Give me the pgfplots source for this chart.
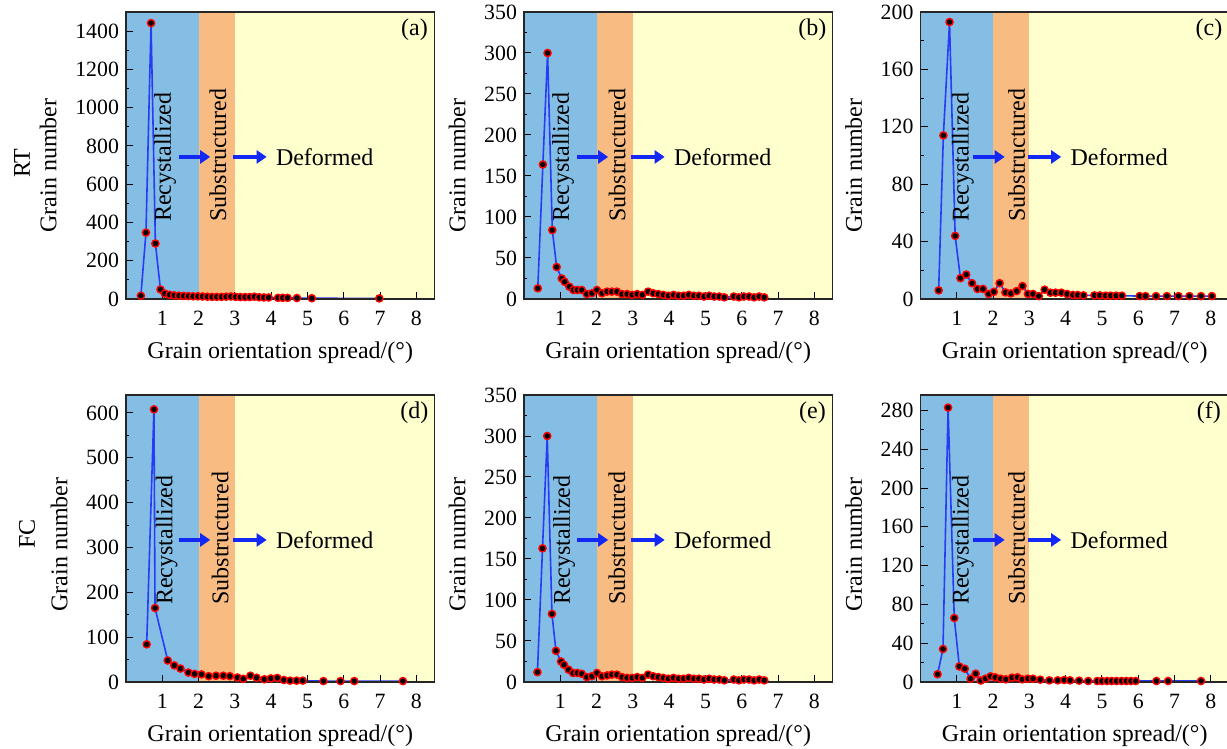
\documentclass[border=0pt]{standalone}
\usepackage{fontspec}
\setmainfont{Liberation Serif}
\usepackage{pgfplots}
\pgfplotsset{compat=1.18}
\usetikzlibrary{arrows.meta}

\definecolor{bgblue}{RGB}{133,190,229}
\definecolor{bgorange}{RGB}{248,188,130}
\definecolor{bgyellow}{RGB}{255,255,206}
\definecolor{lineblue}{RGB}{40,60,245}
\definecolor{arrowblue}{RGB}{20,40,245}

\pgfplotsset{
  gos/.style={
    scale only axis, width=154.25pt, height=143.5pt,
    anchor=south west,
    axis on top,
    xmin=0, xmax=8.5, ymin=0,
    xtick={1,2,3,4,5,6,7,8},
    minor y tick num=1,
    tick pos=left, tick align=inside,
    major tick length=3.5pt, minor tick length=1.6pt,
    tick style={black, line width=0.5pt},
    axis line style={line width=0.6pt, black!85},
    /pgf/number format/assume math mode=true,
    /pgf/number format/1000 sep={},
    scaled y ticks=false,
    ticklabel style={font=\fontsize{10.9}{12}\selectfont},
    xticklabel shift={2.5pt},
    label style={font=\fontsize{12}{14}\selectfont},
    xlabel={Grain orientation spread/(°)},
    xlabel style={yshift=-1pt},
    ylabel={Grain number},
    clip=false,
  },
  row1/.style={ylabel style={yshift=2.5pt, xshift=-5pt}},
  row2/.style={ylabel style={yshift=2.5pt, xshift=-3pt}},
  dat/.style={lineblue, line width=0.8pt, mark=*, mark size=1.8pt,
    mark options={fill=black, draw=red, line width=0.7pt, solid}},
}

\newcommand{\bg}[1]{%
  \addplot[draw=none, fill=bgblue] coordinates {(0,#1) (2,#1)} \closedcycle;
  \addplot[draw=none, fill=bgorange] coordinates {(2,#1) (3,#1)} \closedcycle;
  \addplot[draw=none, fill=bgyellow] coordinates {(3,#1) (8.5,#1)} \closedcycle;
}
\newcommand{\annot}[3]{%
  \node[rotate=90, anchor=west, inner sep=0pt, font=\fontsize{12}{14}\selectfont] at (rel axis cs:#2,0.268) {Recystallized};
  \node[rotate=90, anchor=west, inner sep=0pt, font=\fontsize{12}{14}\selectfont] at (rel axis cs:#3,0.268) {Substructured};
  \draw[arrowblue, line width=1.6pt, -{Triangle[length=5pt,width=6.5pt]}] (rel axis cs:0.1706,0.495) -- (rel axis cs:0.273,0.495);
  \draw[arrowblue, line width=1.6pt, -{Triangle[length=5pt,width=6.5pt]}] (rel axis cs:0.347,0.495) -- (rel axis cs:0.456,0.495);
  \node[anchor=west, inner sep=0pt, font=\fontsize{12}{14}\selectfont] at (rel axis cs:0.485,0.495) {Deformed};
  \node[inner sep=0pt, font=\fontsize{12}{14}\selectfont] at (rel axis cs:0.935,0.937) {(#1)};
}

\begin{document}
\begin{tikzpicture}
\useasboundingbox (0,0) rectangle (613.5pt,374.5pt);

% (a)
\begin{axis}[gos, row1, at={(63pt,225pt)}, ymax=1500, ytick={0,200,...,1400}]
\bg{1500}
\addplot[dat] coordinates {
(0.41,17) (0.55,347) (0.69,1442) (0.81,290) (0.95,50) (1.07,28) (1.20,22) (1.33,19)
(1.46,17) (1.59,16) (1.72,15) (1.85,14) (1.98,14) (2.11,13) (2.24,12) (2.37,11)
(2.50,11) (2.63,11) (2.76,12) (2.89,13) (3.02,11) (3.15,10) (3.28,10) (3.41,10)
(3.54,12) (3.67,9) (3.80,8) (3.93,8) (4.19,6) (4.32,6) (4.45,6) (4.71,5) (5.12,4) (6.98,3)};
\annot{a}{0.127}{0.298}
\end{axis}

% (b)
\begin{axis}[gos, row1, at={(262pt,225pt)}, ymax=350, ytick={0,50,...,350}]
\bg{350}
\addplot[dat] coordinates {
(0.38,13) (0.52,164) (0.65,300) (0.78,84) (0.90,39) (1.04,25) (1.12,21) (1.25,15)
(1.36,11) (1.47,11) (1.59,11) (1.73,6) (1.87,7) (2.01,11) (2.15,7) (2.29,9) (2.42,9)
(2.56,9) (2.70,6) (2.84,6) (2.98,5) (3.12,6) (3.26,5) (3.42,9) (3.56,7) (3.70,6)
(3.84,5) (3.98,4) (4.12,5) (4.26,4) (4.40,4) (4.54,5) (4.68,4) (4.82,4) (4.96,3)
(5.10,4) (5.24,3) (5.38,3) (5.52,2) (5.78,3) (5.92,2) (6.06,3) (6.20,3) (6.34,2)
(6.48,3) (6.62,2)};
\annot{b}{0.127}{0.302}
\end{axis}

% (c)
\begin{axis}[gos, row1, at={(460.25pt,225pt)}, ymax=200, ytick={0,40,...,200}]
\bg{200}
\addplot[dat] coordinates {
(0.50,6) (0.63,114) (0.80,193) (0.955,44) (1.10,14.5) (1.26,17) (1.42,11) (1.57,7)
(1.72,7) (1.88,3.5) (2.02,5) (2.18,11) (2.34,4.6) (2.49,3.9) (2.65,5.5) (2.81,9)
(2.96,3.5) (3.10,3.5) (3.26,2) (3.42,6.5) (3.58,4.4) (3.72,4.4) (3.88,4.4) (4.04,3.5)
(4.20,2.8) (4.33,2.8) (4.49,2.5) (4.79,2.5) (4.94,2.5) (5.10,2.3) (5.24,2.3) (5.39,2.3)
(5.55,2.3) (6.04,2) (6.20,2) (6.49,2) (6.79,2) (7.11,2) (7.41,2) (7.73,2) (8.03,2)};
\annot{c}{0.137}{0.312}
\end{axis}

% (d)
\begin{axis}[gos, row2, at={(63pt,33.5pt)}, ymax=640, ytick={0,100,...,600}]
\bg{640}
\addplot[dat] coordinates {
(0.57,84) (0.77,608) (0.80,165) (1.15,48) (1.33,37) (1.50,30) (1.72,21) (1.89,18)
(2.08,17) (2.28,13) (2.48,14) (2.68,14) (2.86,13) (3.07,10) (3.23,7) (3.43,14)
(3.60,9.5) (3.81,6) (3.99,8) (4.17,9) (4.35,4.5) (4.52,3) (4.70,3) (4.87,3)
(5.44,2) (5.91,2) (6.29,2) (7.63,2)};
\annot{d}{0.132}{0.305}
\end{axis}

% (e)
\begin{axis}[gos, row2, at={(262pt,33.5pt)}, ymax=350, ytick={0,50,...,350}]
\bg{350}
\addplot[dat] coordinates {
(0.37,12) (0.51,163) (0.64,300) (0.77,83) (0.88,38) (1.02,25) (1.10,21) (1.23,15)
(1.35,11) (1.47,11) (1.59,10) (1.73,6) (1.87,7) (2.01,11) (2.15,7) (2.29,8) (2.42,9)
(2.56,9) (2.70,6) (2.84,5) (2.98,5) (3.12,6) (3.26,5) (3.42,9) (3.56,7) (3.70,6)
(3.84,5) (3.98,4) (4.12,5) (4.26,4) (4.40,4) (4.54,5) (4.68,4) (4.82,4) (4.96,3)
(5.10,4) (5.24,3) (5.38,3) (5.52,2) (5.78,3) (5.92,2) (6.06,3) (6.20,3) (6.34,2)
(6.48,3) (6.62,2)};
\annot{e}{0.130}{0.301}
\end{axis}

% (f)
\begin{axis}[gos, row2, at={(460.25pt,33.5pt)}, ymax=296, ytick={0,40,...,280}]
\bg{296}
\addplot[dat] coordinates {
(0.47,8) (0.62,34) (0.76,283) (0.93,66) (1.07,16) (1.22,13.7) (1.38,3.4) (1.52,8.6)
(1.66,1.5) (1.79,3.4) (1.93,5.8) (2.06,4.8) (2.21,3.4) (2.35,2.7) (2.52,4.5) (2.67,4.8)
(2.80,2.7) (2.96,3.4) (3.10,3.4) (3.30,2.4) (3.55,1.7) (3.78,1.7) (3.96,2) (4.12,1.7)
(4.37,1.4) (4.62,1) (4.87,1) (5.00,1) (5.14,1) (5.27,1) (5.40,1) (5.54,1) (5.67,1)
(5.80,1) (5.93,1) (6.50,1) (6.82,1) (7.73,1)};
\annot{f}{0.137}{0.312}
\end{axis}

\node[rotate=90, font=\fontsize{12}{14}\selectfont] at (11pt,293pt) {RT};
\node[rotate=90, font=\fontsize{12}{14}\selectfont] at (13.5pt,107.5pt) {FC};
\end{tikzpicture}
\end{document}
